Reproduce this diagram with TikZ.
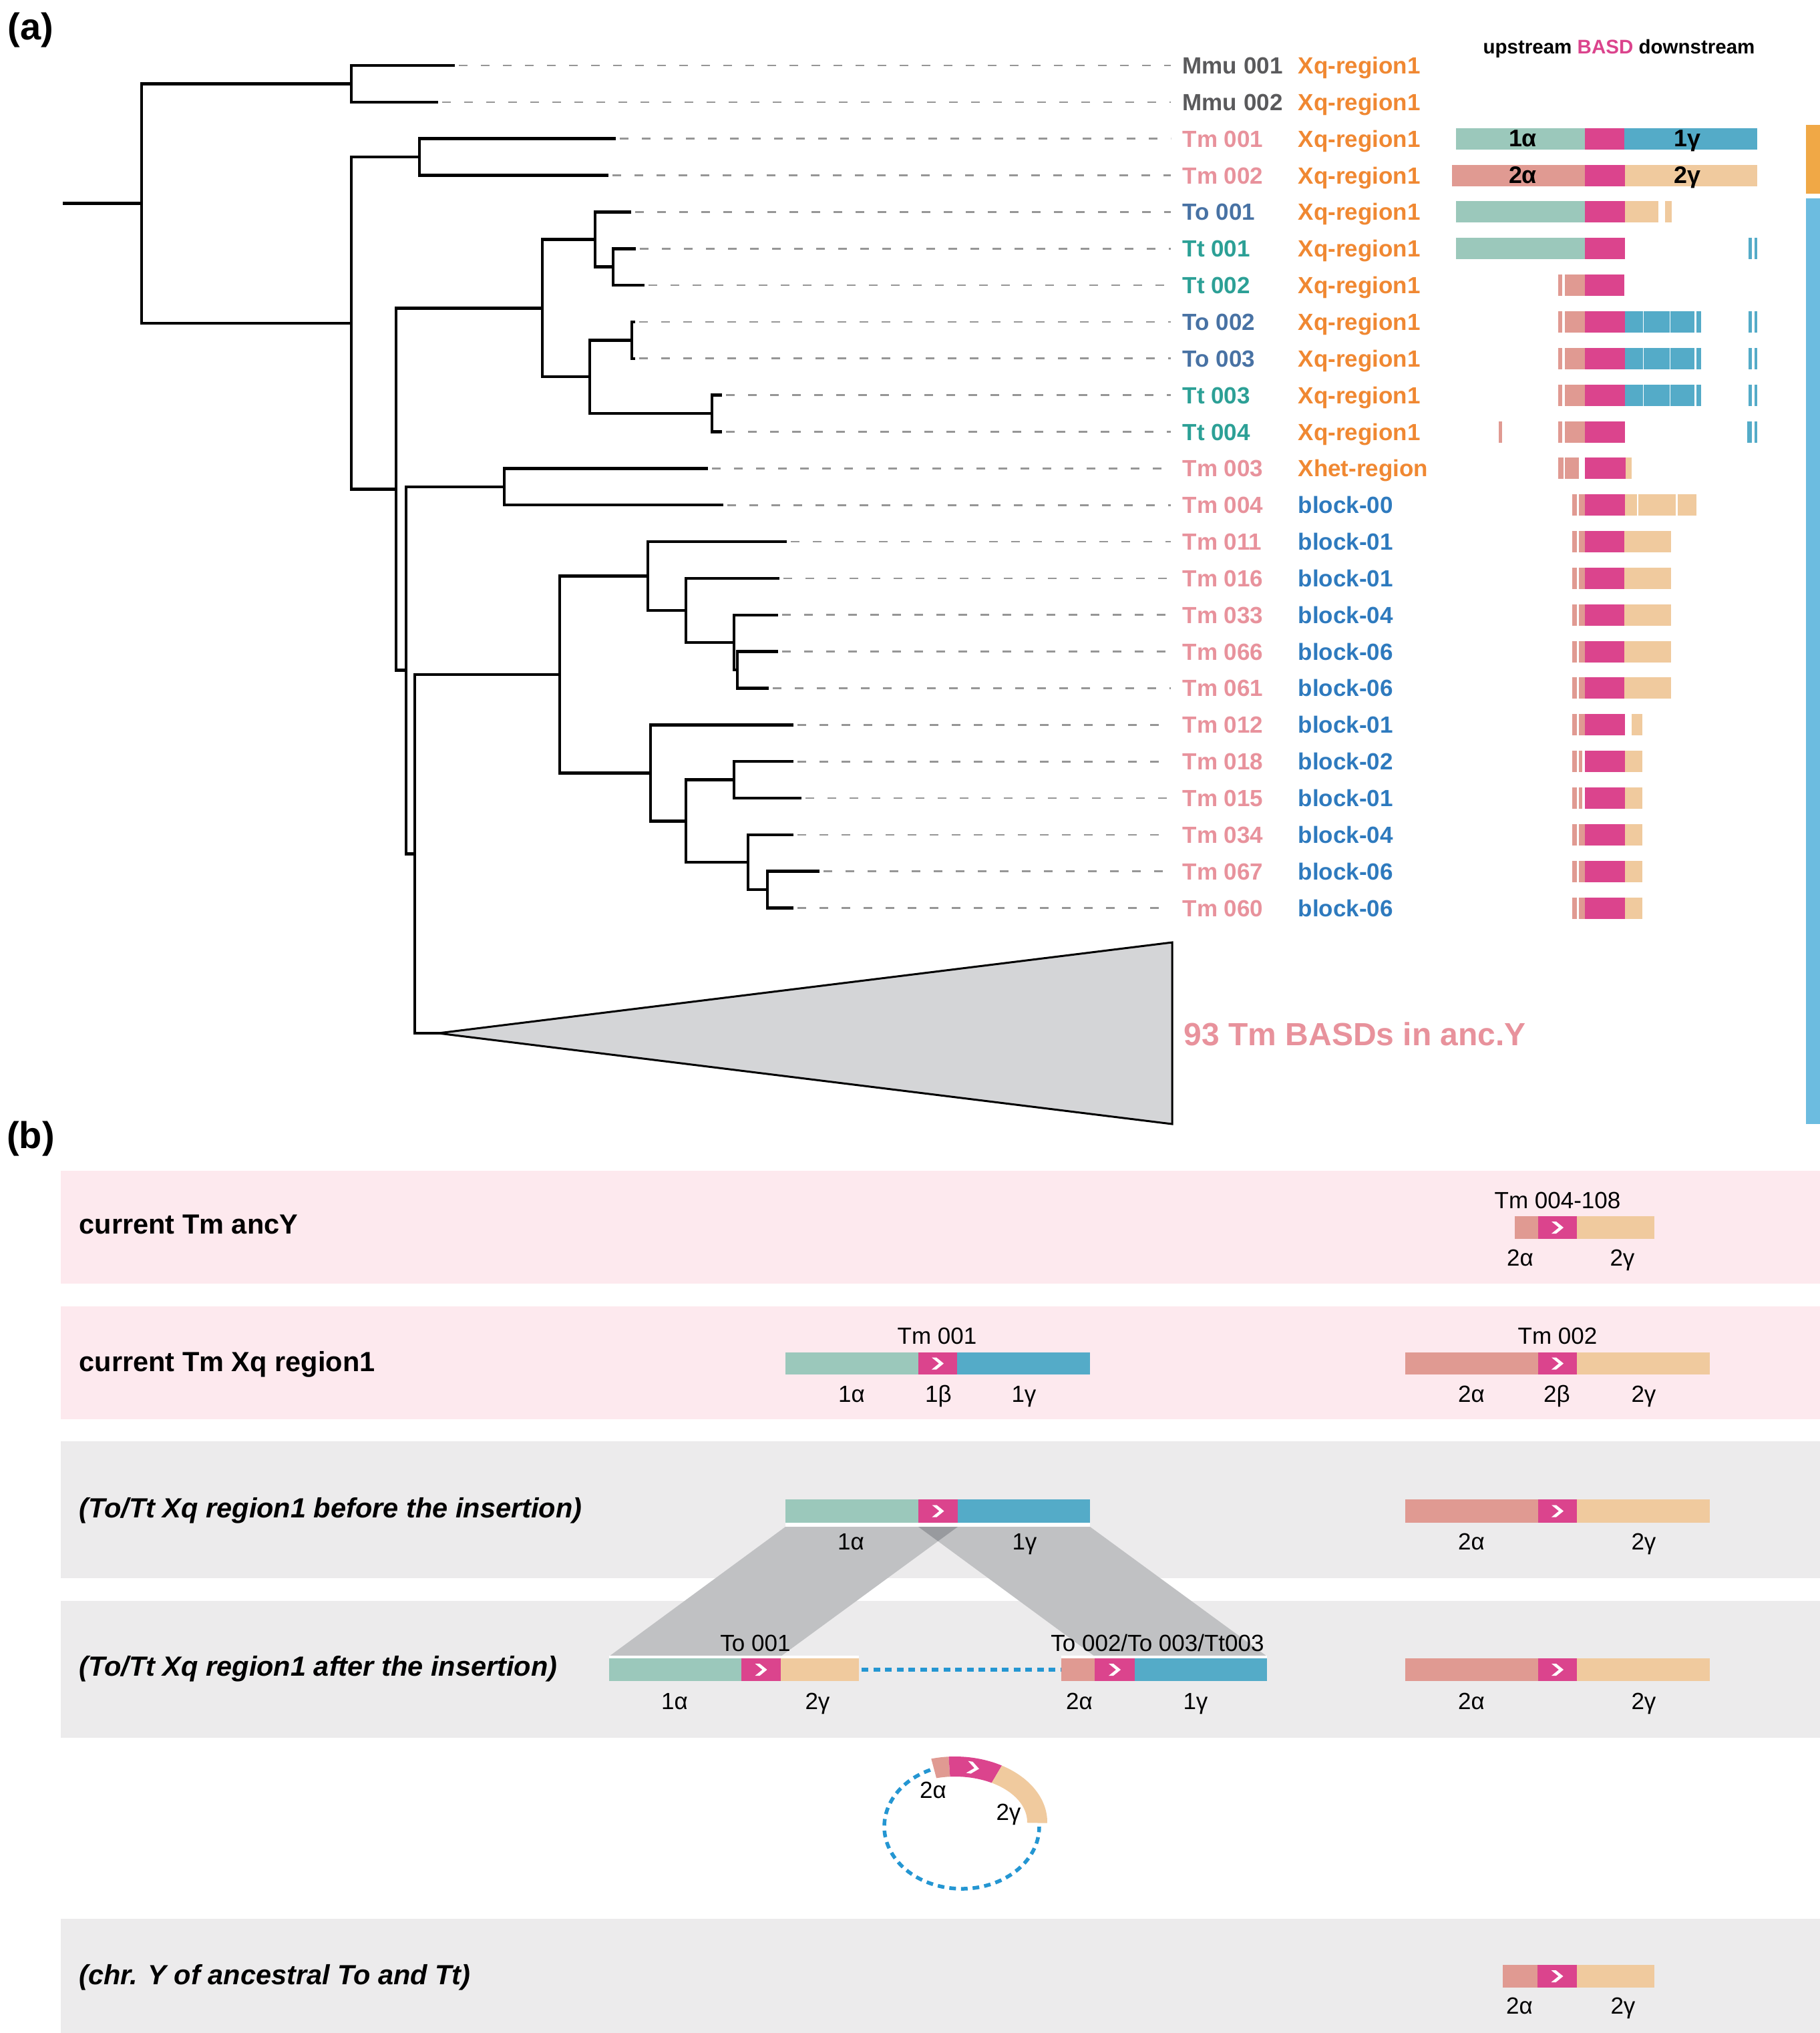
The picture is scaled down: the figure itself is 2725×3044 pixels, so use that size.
\documentclass[tikz,border=0pt]{standalone}
\usepackage{fontspec}
\setmainfont{Liberation Sans}
\definecolor{mmu}{HTML}{5A5A5C}
\definecolor{tm}{HTML}{E8929C}
\definecolor{to}{HTML}{4872A4}
\definecolor{tt}{HTML}{2CA096}
\definecolor{xq}{HTML}{F08832}
\definecolor{blk}{HTML}{2E7ABE}
\definecolor{caa}{HTML}{9BC8BB}
\definecolor{basd}{HTML}{DB448D}
\definecolor{cag}{HTML}{54ABC8}
\definecolor{cba}{HTML}{E09A92}
\definecolor{cbg}{HTML}{F0CA9E}
\definecolor{sideor}{HTML}{F0A846}
\definecolor{sidebl}{HTML}{6CBCE0}
\definecolor{bandpink}{HTML}{FDE9EE}
\definecolor{bandgray}{HTML}{ECEBEC}
\definecolor{trifill}{HTML}{D4D5D7}
\definecolor{shapegray}{HTML}{C0C1C3}
\definecolor{overgray}{HTML}{989A9E}
\definecolor{dashblue}{HTML}{2496D2}
\definecolor{leadgray}{HTML}{969696}
\newcommand\fsz[1]{\fontsize{#1}{#1}\selectfont}
\newcommand\sg[4]{\fill[#4] (#1,{98+54.85*#3-16}) rectangle (#2,{98+54.85*#3+16});}
\newcommand\chev[2]{\fill[white] ({#1-9},{#2-9}) -- ({#1-2},{#2-9}) -- ({#1+9},{#2}) -- ({#1-2},{#2+9}) -- ({#1-9},{#2+9}) -- ({#1+2},{#2}) -- cycle;}
\begin{document}
\begin{tikzpicture}[x=0.1mm,y=-0.1mm,
  tree/.style={line width=0.45mm,line join=miter,line cap=rect},
  leader/.style={draw=leadgray,line width=0.27mm,dash pattern=on 1.3mm off 2mm},
  lbl/.style={inner sep=0pt,font=\fsz{9.96}\bfseries},
  glab/.style={inner sep=0pt,font=\fsz{9.96},anchor=base},
  blab/.style={inner sep=0pt,font=\fsz{11.81}\bfseries,anchor=base west},
  ilab/.style={inner sep=0pt,font=\fsz{11.81}\bfseries\itshape,anchor=base west},
  inbar/.style={inner sep=0pt,font=\fsz{10.2}\bfseries,anchor=base},
]
\useasboundingbox (0,0) rectangle (2725,3044);
\fill[white] (0,0) rectangle (2725,3044);

% ---------------- panel (a) ----------------
\node[inner sep=0pt,font=\fsz{15.93}\bfseries] (pa) at (46,45) {(a)};
\node[inner sep=0pt,font=\fsz{8.4}\bfseries,anchor=base] (legend) at (2424,80) {upstream \textcolor{basd}{BASD} downstream};

% tree
\draw[tree] (96,304.6) -- (212,304.6);
\draw[tree] (526,125.4) -- (212,125.4) -- (212,483.8) -- (526,483.8);
\draw[tree] (679,98) -- (526,98) -- (526,152.85) -- (654,152.85);
\draw[tree] (628,235.1) -- (526,235.1) -- (526,732.5) -- (593,732.5);
\draw[tree] (920,207.7) -- (628,207.7) -- (628,262.55) -- (909,262.55);
\draw[tree] (812,461.4) -- (593,461.4) -- (593,1003.6) -- (608,1003.6);
\draw[tree] (891,358.5) -- (812,358.5) -- (812,564.2) -- (883,564.2);
\draw[tree] (943,317.4) -- (891,317.4) -- (891,399.7) -- (918,399.7);
\draw[tree] (950,372.25) -- (918,372.25) -- (918,427.1) -- (963,427.1);
\draw[tree] (946,509.4) -- (883,509.4) -- (883,619.1) -- (1066,619.1);
\draw[tree] (949,481.95) -- (946,481.95) -- (946,536.8) -- (949,536.8);
\draw[tree] (1079,591.65) -- (1066,591.65) -- (1066,646.5) -- (1079,646.5);
\draw[tree] (755,728.8) -- (608,728.8) -- (608,1278.5) -- (621,1278.5);
\draw[tree] (1058,701.35) -- (755,701.35) -- (755,756.2) -- (1081,756.2);
\draw[tree] (838,1009.9) -- (621,1009.9) -- (621,1547) -- (656,1547);
\draw[tree] (970,862.5) -- (838,862.5) -- (838,1157.3) -- (974,1157.3);
\draw[tree] (1176,811.05) -- (970,811.05) -- (970,913.9) -- (1027,913.9);
\draw[tree] (1165,865.9) -- (1027,865.9) -- (1027,961.9) -- (1099,961.9);
\draw[tree] (1163,920.75) -- (1099,920.75) -- (1099,1003) -- (1104,1003);
\draw[tree] (1163,975.6) -- (1104,975.6) -- (1104,1030.45) -- (1149,1030.45);
\draw[tree] (1186,1085.3) -- (974,1085.3) -- (974,1229.3) -- (1027,1229.3);
\draw[tree] (1099,1167.6) -- (1027,1167.6) -- (1027,1291) -- (1120,1291);
\draw[tree] (1186,1140.15) -- (1099,1140.15) -- (1099,1195) -- (1198,1195);
\draw[tree] (1186,1249.85) -- (1120,1249.85) -- (1120,1332.1) -- (1149,1332.1);
\draw[tree] (1225,1304.7) -- (1149,1304.7) -- (1149,1359.55) -- (1186,1359.55);

% collapsed clade
\draw[line width=0.3mm,fill=trifill,line join=miter] (656,1547) -- (1755,1411) -- (1755,1683) -- cycle;
\node[inner sep=0pt,font=\fsz{13.66}\bfseries,text=tm,anchor=base west] (anc) at (1772,1565) {93 Tm BASDs in anc.Y};

% labels
\foreach \i/\nm/\nc/\rg/\rc/\tx in {
0/Mmu 001/mmu/Xq-region1/xq/679,
1/Mmu 002/mmu/Xq-region1/xq/654,
2/Tm 001/tm/Xq-region1/xq/920,
3/Tm 002/tm/Xq-region1/xq/909,
4/To 001/to/Xq-region1/xq/943,
5/Tt 001/tt/Xq-region1/xq/950,
6/Tt 002/tt/Xq-region1/xq/963,
7/To 002/to/Xq-region1/xq/949,
8/To 003/to/Xq-region1/xq/949,
9/Tt 003/tt/Xq-region1/xq/1079,
10/Tt 004/tt/Xq-region1/xq/1079,
11/Tm 003/tm/Xhet-region/xq/1058,
12/Tm 004/tm/block-00/blk/1081,
13/Tm 011/tm/block-01/blk/1176,
14/Tm 016/tm/block-01/blk/1165,
15/Tm 033/tm/block-04/blk/1163,
16/Tm 066/tm/block-06/blk/1163,
17/Tm 061/tm/block-06/blk/1149,
18/Tm 012/tm/block-01/blk/1186,
19/Tm 018/tm/block-02/blk/1186,
20/Tm 015/tm/block-01/blk/1198,
21/Tm 034/tm/block-04/blk/1186,
22/Tm 067/tm/block-06/blk/1225,
23/Tm 060/tm/block-06/blk/1186}{
  \pgfmathsetmacro\yy{98+54.85*\i}
  \coordinate (tip\i) at ({\tx+8},\yy);
  \coordinate (end\i) at (1753,\yy);
  \draw[leader] (tip\i) -- (end\i);
  \node[lbl,text=\nc,anchor=base west] (nm\i) at (1770,{\yy+12.5}) {\nm};
  \node[lbl,text=\rc,anchor=base west] (rg\i) at (1943,{\yy+12.5}) {\rg};
}

% bars
\sg{2180}{2373}{2}{caa}\sg{2373}{2432}{2}{basd}\sg{2432}{2631}{2}{cag}
\node[inbar] (b1a) at (2280,{98+54.85*2+12}) {1α};
\node[inbar] (b1g) at (2526,{98+54.85*2+12}) {1γ};
\sg{2174}{2373}{3}{cba}\sg{2373}{2433}{3}{basd}\sg{2433}{2631}{3}{cbg}
\node[inbar] (b2a) at (2280,{98+54.85*3+12}) {2α};
\node[inbar] (b2g) at (2526,{98+54.85*3+12}) {2γ};
\sg{2180}{2373}{4}{caa}\sg{2373}{2433}{4}{basd}\sg{2433}{2483}{4}{cbg}\sg{2493}{2503}{4}{cbg}
\sg{2180}{2373}{5}{caa}\sg{2373}{2433}{5}{basd}\sg{2617.5}{2623}{5}{cag}\sg{2627}{2631}{5}{cag}
\sg{2333}{2339}{6}{cba}\sg{2343}{2373}{6}{cba}\sg{2373}{2432}{6}{basd}
\foreach \r in {7,8,9}{
  \sg{2333}{2339}{\r}{cba}\sg{2343}{2373}{\r}{cba}\sg{2373}{2433}{\r}{basd}
  \sg{2433}{2460}{\r}{cag}\sg{2461}{2499.5}{\r}{cag}\sg{2501}{2537}{\r}{cag}\sg{2539.5}{2547}{\r}{cag}
  \sg{2617.5}{2623}{\r}{cag}\sg{2627}{2631}{\r}{cag}
}
\sg{2244}{2249}{10}{cba}\sg{2333}{2339}{10}{cba}\sg{2343}{2373}{10}{cba}\sg{2373}{2433}{10}{basd}
\sg{2616}{2623}{10}{cag}\sg{2627}{2631}{10}{cag}
\sg{2333}{2341}{11}{cba}\sg{2343}{2364}{11}{cba}\sg{2373}{2433.5}{11}{basd}\sg{2434}{2443}{11}{cbg}
\sg{2353.5}{2361}{12}{cba}\sg{2364}{2373}{12}{cba}\sg{2373}{2433}{12}{basd}
\sg{2433}{2451}{12}{cbg}\sg{2452.5}{2509}{12}{cbg}\sg{2512}{2540}{12}{cbg}
\foreach \r in {13,...,17}{
  \sg{2353.5}{2361}{\r}{cba}\sg{2364}{2373}{\r}{cba}\sg{2373}{2432}{\r}{basd}\sg{2432}{2502}{\r}{cbg}
}
\sg{2353.5}{2361}{18}{cba}\sg{2364}{2373}{18}{cba}\sg{2373}{2433}{18}{basd}\sg{2443}{2459}{18}{cbg}
\foreach \r in {19,20}{
  \sg{2353.5}{2361}{\r}{cba}\sg{2364}{2368.5}{\r}{cba}\sg{2373}{2433}{\r}{basd}\sg{2433}{2459}{\r}{cbg}
}
\foreach \r in {21,22,23}{
  \sg{2353.5}{2361}{\r}{cba}\sg{2364}{2373}{\r}{cba}\sg{2373}{2433}{\r}{basd}\sg{2433}{2459}{\r}{cbg}
}
% side bars
\fill[sideor] (2704,187) rectangle (2725,290);
\fill[sidebl] (2704,297) rectangle (2725,1683);

% ---------------- panel (b) ----------------
\node[inner sep=0pt,font=\fsz{15.93}\bfseries] (pb) at (46,1705) {(b)};
\fill[bandpink] (91,1753) rectangle (2725,1922);
\fill[bandpink] (91,1956) rectangle (2725,2125);
\fill[bandgray] (91,2158) rectangle (2725,2363);
\fill[bandgray] (91,2397) rectangle (2725,2602);
\fill[bandgray] (91,2873) rectangle (2725,3044);
\node[blab] (l1) at (118,1847) {current Tm ancY};
\node[blab] (l2) at (118,2053) {current Tm Xq region1};
\node[ilab] (l3) at (118,2272) {(To/Tt Xq region1 before the insertion)};
\node[ilab] (l4) at (118,2509) {(To/Tt Xq region1 after the insertion)};
\node[ilab] (l5) at (118,2971) {(chr. Y of ancestral To and Tt)};

% band 1
\fill[cba] (2268,1821) rectangle (2303,1855);
\fill[basd] (2303,1821) rectangle (2361,1855);
\fill[cbg] (2361,1821) rectangle (2477,1855);
\chev{2332}{1838}
\node[glab] (g1t) at (2332,1809.5) {Tm 004-108};
\node[glab] (g1a) at (2276,1895.5) {2α};
\node[glab] (g1g) at (2429,1895.5) {2γ};

% band 2
\fill[caa] (1176,2025) rectangle (1375,2058);
\fill[basd] (1375,2025) rectangle (1433,2058);
\fill[cag] (1433,2025) rectangle (1632,2058);
\chev{1404}{2041.5}
\fill[cba] (2104,2025) rectangle (2303,2058);
\fill[basd] (2303,2025) rectangle (2361,2058);
\fill[cbg] (2361,2025) rectangle (2560,2058);
\chev{2332}{2041.5}
\node[glab] (g2t1) at (1403,2012.5) {Tm 001};
\node[glab] (g2t2) at (2332,2012.5) {Tm 002};
\node[glab] (g2a1) at (1275,2099.5) {1α};
\node[glab] (g2b1) at (1405,2099.5) {1β};
\node[glab] (g2g1) at (1533,2099.5) {1γ};
\node[glab] (g2a2) at (2203,2099.5) {2α};
\node[glab] (g2b2) at (2331,2099.5) {2β};
\node[glab] (g2g2) at (2461,2099.5) {2γ};

% band 3 / 4 links
\fill[shapegray] (1176,2286) -- (1434,2286) -- (1169,2480) -- (912,2480) -- cycle;
\fill[shapegray] (1375,2286) -- (1632,2286) -- (1897,2480) -- (1639,2480) -- cycle;
\fill[overgray] (1375,2286) -- (1434,2286) -- (1404.4,2307.6) -- cycle;
\fill[white] (1176,2280) rectangle (1632,2286);
\fill[white] (912,2479) rectangle (1286,2483);
\fill[white] (1589,2479) rectangle (1897,2483);

% band 3
\fill[caa] (1176,2245) rectangle (1375,2280);
\fill[basd] (1375,2245) rectangle (1434,2280);
\fill[cag] (1434,2245) rectangle (1632,2280);
\chev{1404.5}{2262.5}
\fill[cba] (2104,2245) rectangle (2303,2280);
\fill[basd] (2303,2245) rectangle (2361,2280);
\fill[cbg] (2361,2245) rectangle (2560,2280);
\chev{2332}{2262.5}
\node[glab] (g3a1) at (1274,2320.5) {1α};
\node[glab] (g3g1) at (1534,2320.5) {1γ};
\node[glab] (g3a2) at (2203,2320.5) {2α};
\node[glab] (g3g2) at (2461,2320.5) {2γ};

% band 4
\fill[caa] (912,2483) rectangle (1110,2517);
\fill[basd] (1110,2483) rectangle (1169,2517);
\fill[cbg] (1169,2483) rectangle (1286,2517);
\chev{1139.5}{2500}
\coordinate (dl) at (1290,2500);
\coordinate (dr) at (1589,2500);
\draw[dashblue,line width=0.55mm,dash pattern=on 1mm off 0.75mm] (dl) -- (dr);
\fill[cba] (1589,2483) rectangle (1639,2517);
\fill[basd] (1639,2483) rectangle (1699,2517);
\fill[cag] (1699,2483) rectangle (1897,2517);
\chev{1669}{2500}
\fill[cba] (2104,2483) rectangle (2303,2517);
\fill[basd] (2303,2483) rectangle (2361,2517);
\fill[cbg] (2361,2483) rectangle (2560,2517);
\chev{2332}{2500}
\node[glab] (g4t1) at (1131,2472.5) {To 001};
\node[glab] (g4t2) at (1733,2472.5) {To 002/To 003/Tt003};
\node[glab] (g4a1) at (1010,2559.5) {1α};
\node[glab] (g4g1) at (1224,2559.5) {2γ};
\node[glab] (g4a2) at (1616,2559.5) {2α};
\node[glab] (g4g2) at (1790,2559.5) {1γ};
\node[glab] (g4a3) at (2203,2559.5) {2α};
\node[glab] (g4g3) at (2461,2559.5) {2γ};

% circle
\draw[dashblue,line width=0.55mm,dash pattern=on 1mm off 0.75mm] ({1440+116*cos(246)},{2735+93*sin(246)}) arc[start angle=246,end angle=0,x radius=116,y radius=93];
\fill[cba] ({1430+138*cos(-105)},{2728+98*sin(-105)}) arc[start angle=-105,end angle=-94,x radius=138,y radius=98] -- ({1430+108*cos(-94)},{2728+68*sin(-94)}) arc[start angle=-94,end angle=-105,x radius=108,y radius=68] -- cycle;
\fill[basd] ({1430+138*cos(-94)},{2728+98*sin(-94)}) arc[start angle=-94,end angle=-59.5,x radius=138,y radius=98] -- ({1430+108*cos(-59.5)},{2728+68*sin(-59.5)}) arc[start angle=-59.5,end angle=-94,x radius=108,y radius=68] -- cycle;
\fill[cbg] ({1430+138*cos(-59.5)},{2728+98*sin(-59.5)}) arc[start angle=-59.5,end angle=1,x radius=138,y radius=98] -- ({1430+108*cos(1)},{2728+68*sin(1)}) arc[start angle=1,end angle=-59.5,x radius=108,y radius=68] -- cycle;
\begin{scope}[shift={(1457,2647)},rotate=-9]
\fill[white] (-9,-9) -- (-2,-9) -- (9,0) -- (-2,9) -- (-9,9) -- (2,0) -- cycle;
\end{scope}
\node[glab] (gca) at (1397,2692.5) {2α};
\node[glab] (gcg) at (1510,2725.5) {2γ};

% band 5
\fill[cba] (2250,2942) rectangle (2302,2976);
\fill[basd] (2302,2942) rectangle (2361,2976);
\fill[cbg] (2361,2942) rectangle (2477,2976);
\chev{2331.5}{2959}
\node[glab] (g5a) at (2275,3015.5) {2α};
\node[glab] (g5g) at (2430,3015.5) {2γ};
\end{tikzpicture}
\end{document}
